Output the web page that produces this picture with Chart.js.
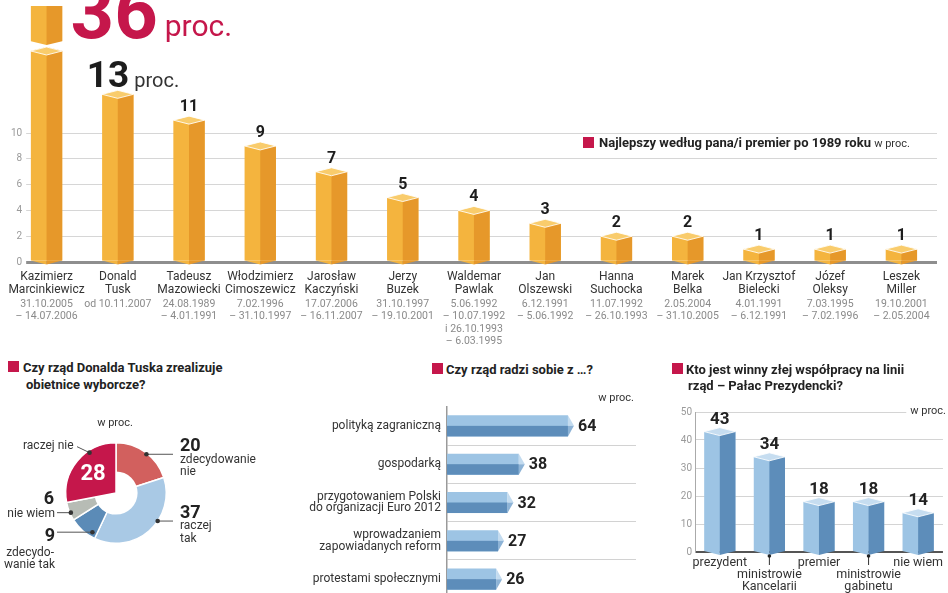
<!DOCTYPE html>
<html lang="pl">
<head>
<meta charset="utf-8">
<script src="https://cdn.jsdelivr.net/npm/chart.js@4"></script>
<style>
  body { margin:0; width:948px; height:593px; overflow:hidden; position:relative; background:#fff; font-family:Roboto, sans-serif; color:#222; }
  canvas { position:absolute; }
  .t { position:absolute; white-space:nowrap; line-height:1; }
  .l { transform:translateY(-50%); }
  .c { transform:translate(-50%,-50%); }
  .r { transform:translate(-100%,-50%); }
  .title { font-weight:700; font-size:13px; color:#222; }
  .sq { position:absolute; width:11px; height:11px; background:#c5174b; }
  .num { font-weight:700; font-size:18px; color:#222; }
  .lbl { font-size:12px; color:#333; }
  .unit { font-size:11px; color:#333; }
</style>
</head>
<body>
<canvas id="main" width="948" height="350" style="left:0;top:0"></canvas>
<canvas id="promise" width="300" height="198" style="left:0;top:395px"></canvas>
<canvas id="handle" width="340" height="215" style="left:300px;top:395px"></canvas>
<canvas id="blame" width="308" height="215" style="left:640px;top:395px"></canvas>

<!-- main chart legend -->
<div class="sq" style="left:583px;top:137px"></div>
<div class="t l title" style="left:599px;top:142px">Najlepszy według pana/i premier po 1989 roku <span style="font-weight:400;font-size:11px;color:#333">w proc.</span></div>

<!-- doughnut panel -->
<div class="sq" style="left:8px;top:361px"></div>
<div class="t l title" style="left:23px;top:367px">Czy rząd Donalda Tuska zrealizuje</div>
<div class="t l title" style="left:26px;top:384px">obietnice wyborcze?</div>
<div class="t c unit" style="left:115px;top:422px">w proc.</div>
<div class="t l lbl" style="left:23px;top:445px">raczej nie</div>
<div class="t c" style="left:93px;top:473px;font-weight:700;font-size:22px;color:#fff">28</div>
<div class="t l num" style="left:180px;top:445px">20</div>
<div class="t l lbl" style="left:180px;top:459px">zdecydowanie</div>
<div class="t l lbl" style="left:180px;top:471px">nie</div>
<div class="t l num" style="left:180px;top:512px">37</div>
<div class="t l lbl" style="left:180px;top:525px">raczej</div>
<div class="t l lbl" style="left:180px;top:538px">tak</div>
<div class="t c num" style="left:49px;top:498px">6</div>
<div class="t r lbl" style="left:55px;top:513px">nie wiem</div>
<div class="t c num" style="left:50px;top:535px">9</div>
<div class="t r lbl" style="left:54px;top:552px">zdecydo-</div>
<div class="t r lbl" style="left:55px;top:564px">wanie tak</div>

<!-- horizontal bars panel -->
<div class="sq" style="left:432px;top:363px"></div>
<div class="t l title" style="left:446px;top:369px">Czy rząd radzi sobie z …?</div>
<div class="t r unit" style="left:634px;top:397px">w proc.</div>

<!-- blame panel -->
<div class="sq" style="left:672px;top:363px"></div>
<div class="t l title" style="left:686px;top:369px">Kto jest winny złej współpracy na linii</div>
<div class="t l title" style="left:688px;top:385px">rząd – Pałac Prezydencki?</div>
<div class="t r unit" style="left:946px;top:410px;background:#fff;padding-left:4px">w proc.</div>

<script>
Chart.defaults.font.family = 'Roboto';

// Najlepszy premier po 1989 roku
const premierNames = [
  ['Kazimierz', 'Marcinkiewicz'], ['Donald', 'Tusk'], ['Tadeusz', 'Mazowiecki'], ['Włodzimierz', 'Cimoszewicz'],
  ['Jarosław', 'Kaczyński'], ['Jerzy', 'Buzek'], ['Waldemar', 'Pawlak'], ['Jan', 'Olszewski'],
  ['Hanna', 'Suchocka'], ['Marek', 'Belka'], ['Jan Krzysztof', 'Bielecki'], ['Józef', 'Oleksy'], ['Leszek', 'Miller']
];
const premierTerms = [
  ['31.10.2005', '– 14.07.2006'], ['od 10.11.2007'], ['24.08.1989', '– 4.01.1991'], ['7.02.1996', '– 31.10.1997'],
  ['17.07.2006', '– 16.11.2007'], ['31.10.1997', '– 19.10.2001'],
  ['5.06.1992', '– 10.07.1992', 'i 26.10.1993', '– 6.03.1995'],
  ['6.12.1991', '– 5.06.1992'], ['11.07.1992', '– 26.10.1993'], ['2.05.2004', '– 31.10.2005'],
  ['4.01.1991', '– 6.12.1991'], ['7.03.1995', '– 7.02.1996'], ['19.10.2001', '– 2.05.2004']
];
const premierValues = [36, 13, 11, 9, 7, 5, 4, 3, 2, 2, 1, 1, 1];
const premierTicks = [0, 2, 4, 6, 8, 10];

// Czy rząd Donalda Tuska zrealizuje obietnice wyborcze?
const promiseLabels = ['zdecydowanie nie', 'raczej tak', 'zdecydowanie tak', 'nie wiem', 'raczej nie'];
const promiseValues = [20, 37, 9, 6, 28];

// Czy rząd radzi sobie z ...?
const handleLabels = ['polityką zagraniczną', 'gospodarką', ['przygotowaniem Polski', 'do organizacji Euro 2012'],
  ['wprowadzaniem', 'zapowiadanych reform'], 'protestami społecznymi'];
const handleValues = [64, 38, 32, 27, 26];

// Kto jest winny złej współpracy?
const blameLabels = ['prezydent', ['', 'ministrowie', 'Kancelarii'], 'premier', ['', 'ministrowie', 'gabinetu'], 'nie wiem'];
const blameValues = [43, 34, 18, 18, 14];
const blameTicks = [0, 10, 20, 30, 40, 50];

const ORANGE = '#f4b43e', ORANGE_DARK = '#e6982a', ORANGE_TOP = '#f9cc6c';
const BLUE = '#9dc4e4', BLUE_DARK = '#5d8dba', BLUE_TOP = '#c6ddf0';
const RED = '#c5174b';
const PROMISE_COLORS = ['#d2605e', '#a9c9e5', '#5b8bb7', '#b7bcb5', RED];
const noLegend = { legend: { display: false }, tooltip: { enabled: false } };

// 3d look: right half darker, rhombus cap, small V at the bottom
function cubes(light, dark, capColor) {
  return {
    id: 'cubes',
    afterDatasetsDraw(chart) {
      const ctx = chart.ctx, area = chart.chartArea;
      ctx.save();
      chart.getDatasetMeta(0).data.forEach(bar => {
        const { x, y, base, width } = bar.getProps(['x', 'y', 'base', 'width'], true);
        const h = width / 2, top = Math.max(y, area.top);
        ctx.fillStyle = dark;
        ctx.fillRect(x, top, h, base - top);
        ctx.beginPath(); ctx.moveTo(x - h, base); ctx.lineTo(x, base + 4); ctx.lineTo(x, base); ctx.closePath();
        ctx.fillStyle = light; ctx.fill();
        ctx.beginPath(); ctx.moveTo(x, base); ctx.lineTo(x, base + 4); ctx.lineTo(x + h, base); ctx.closePath();
        ctx.fillStyle = dark; ctx.fill();
        if (y > area.top) {
          ctx.beginPath();
          ctx.moveTo(x - h, y); ctx.lineTo(x, y - 4); ctx.lineTo(x + h, y); ctx.lineTo(x, y + 4); ctx.closePath();
          ctx.fillStyle = capColor; ctx.fill();
          ctx.strokeStyle = 'rgba(255,255,255,0.85)'; ctx.lineWidth = 1; ctx.stroke();
        }
      });
      ctx.restore();
    }
  };
}

// the 36% bar does not fit, it is broken near the top
const breakY = 46;
const barBreak = {
  id: 'barBreak',
  afterDatasetsDraw(chart) {
    const ctx = chart.ctx;
    const { x, width } = chart.getDatasetMeta(0).data[0].getProps(['x', 'width'], true);
    const h = width / 2;
    ctx.save();
    ctx.beginPath();
    ctx.moveTo(x - h - 1, breakY - 5); ctx.lineTo(x, breakY - 1); ctx.lineTo(x + h + 1, breakY - 5);
    ctx.lineTo(x + h + 1, breakY + 5); ctx.lineTo(x, breakY + 1); ctx.lineTo(x - h - 1, breakY + 5);
    ctx.closePath();
    ctx.fillStyle = '#fff'; ctx.fill();
    ctx.beginPath();
    ctx.moveTo(x - h, breakY + 5); ctx.lineTo(x, breakY + 1); ctx.lineTo(x + h, breakY + 5); ctx.lineTo(x, breakY + 9);
    ctx.closePath();
    ctx.fillStyle = ORANGE_TOP; ctx.fill();
    ctx.strokeStyle = 'rgba(255,255,255,0.85)'; ctx.stroke();
    ctx.restore();
  }
};

const premierLabels = {
  id: 'premierLabels',
  afterDatasetsDraw(chart) {
    const ctx = chart.ctx;
    ctx.save();
    ctx.textBaseline = 'alphabetic';
    chart.getDatasetMeta(0).data.forEach((bar, i) => {
      const v = String(premierValues[i]);
      if (i === 0) {
        ctx.textAlign = 'left'; ctx.fillStyle = RED;
        ctx.font = '700 76px Roboto';
        const x0 = bar.x + 24;
        ctx.fillText(v, x0, 38);
        const w = ctx.measureText(v).width;
        ctx.font = '400 30px Roboto';
        ctx.fillText('proc.', x0 + w + 7, 36);
      } else if (i === 1) {
        ctx.textAlign = 'left'; ctx.fillStyle = '#1d1d1d';
        ctx.font = '700 37px Roboto';
        const x0 = bar.x - 31;
        ctx.fillText(v, x0, bar.y - 7);
        const w = ctx.measureText(v).width;
        ctx.font = '400 20px Roboto'; ctx.fillStyle = '#333';
        ctx.fillText('proc.', x0 + w + 5, bar.y - 7);
      } else {
        ctx.textAlign = 'center'; ctx.fillStyle = '#1d1d1d';
        ctx.font = '700 16px Roboto';
        ctx.fillText(v, bar.x, bar.y - 9);
      }
    });
    ctx.restore();
  }
};

const premierTermsPlugin = {
  id: 'terms',
  afterDraw(chart) {
    const ctx = chart.ctx, sx = chart.scales.x;
    ctx.save();
    ctx.font = '400 10.5px Roboto'; ctx.fillStyle = '#8a8a8a';
    ctx.textAlign = 'center'; ctx.textBaseline = 'middle';
    premierTerms.forEach((lines, i) => {
      const x = sx.getPixelForTick(i);
      lines.forEach((s, j) => ctx.fillText(s, x, chart.chartArea.bottom + 42 + j * 12.5));
    });
    ctx.restore();
  }
};

new Chart(document.getElementById('main'), {
  type: 'bar',
  data: {
    labels: premierNames,
    datasets: [{ data: premierValues, backgroundColor: ORANGE, borderWidth: 0, categoryPercentage: 1, barPercentage: 0.44 }]
  },
  options: {
    responsive: false,
    animation: false,
    layout: { padding: { left: 10, right: 11, top: 0, bottom: 0 } },
    plugins: noLegend,
    scales: {
      x: {
        grid: { display: false, drawTicks: false },
        border: { display: false },
        ticks: { padding: 8, color: '#333', font: { size: 12, lineHeight: 1.1 }, maxRotation: 0, autoSkip: false },
        afterFit: s => { s.height = 88; }
      },
      y: {
        min: 0,
        max: 19.85,
        afterFit: s => { s.width = 0; },
        afterBuildTicks: s => { s.ticks = premierTicks.map(v => ({ value: v })); },
        border: { display: false },
        grid: {
          drawTicks: false,
          color: c => (c.tick && c.tick.value === 0 ? '#8e8e8e' : '#d6d6d6'),
          lineWidth: c => (c.tick && c.tick.value === 0 ? 3 : 1)
        },
        ticks: {
          mirror: true, crossAlign: 'far', padding: 0, color: '#9a9a9a', font: { size: 10 },
          showLabelBackdrop: true, backdropColor: '#fff', backdropPadding: { top: 0, bottom: 0, left: 12, right: 4 }
        }
      }
    }
  },
  plugins: [cubes(ORANGE, ORANGE_DARK, ORANGE_TOP), barBreak, premierLabels, premierTermsPlugin]
});

// doughnut: every slice has a hole except "raczej nie"
const promiseHole = {
  id: 'hole',
  afterDatasetsDraw(chart) {
    const arcs = chart.getDatasetMeta(0).data;
    const { x, y, outerRadius } = arcs[0].getProps(['x', 'y', 'outerRadius'], true);
    const ctx = chart.ctx;
    ctx.save();
    ctx.beginPath();
    ctx.moveTo(x, y);
    ctx.arc(x, y, outerRadius * 0.43, arcs[0].startAngle, arcs[3].endAngle);
    ctx.closePath();
    ctx.fillStyle = '#fff'; ctx.fill();
    ctx.restore();
  }
};

const promiseLeaders = [
  { t: 0.53, r: 0.98, x: 173, dy: 0 },
  { t: 0.39, r: 1.0, x: 173, dy: 0 },
  { t: 0.18, r: 0.91, x: 57, dy: 0 },
  { t: 0.41, r: 0.98, x: 57, dy: 0 },
  { t: 0.67, r: 0.96, x: 77, dy: -6 }
];
const promiseLeadersPlugin = {
  id: 'leaders',
  afterDraw(chart) {
    const ctx = chart.ctx;
    ctx.save();
    chart.getDatasetMeta(0).data.forEach((a, i) => {
      const p = promiseLeaders[i];
      const ang = a.startAngle + p.t * (a.endAngle - a.startAngle);
      const px = a.x + p.r * a.outerRadius * Math.cos(ang);
      const py = a.y + p.r * a.outerRadius * Math.sin(ang);
      ctx.strokeStyle = '#555'; ctx.lineWidth = 1;
      ctx.beginPath(); ctx.moveTo(px, py); ctx.lineTo(p.x, py + p.dy); ctx.stroke();
      ctx.fillStyle = '#333';
      ctx.beginPath(); ctx.arc(px, py, 2.3, 0, Math.PI * 2); ctx.fill();
    });
    ctx.restore();
  }
};

new Chart(document.getElementById('promise'), {
  type: 'pie',
  data: {
    labels: promiseLabels,
    datasets: [{ data: promiseValues, backgroundColor: PROMISE_COLORS, borderColor: '#fff', borderWidth: 1.5 }]
  },
  options: {
    responsive: false,
    animation: false,
    layout: { padding: { left: 65, right: 133, top: 47, bottom: 49 } },
    plugins: noLegend
  },
  plugins: [promiseHole, promiseLeadersPlugin]
});

// horizontal prisms
const prisms = {
  id: 'prisms',
  afterDatasetsDraw(chart) {
    const ctx = chart.ctx;
    ctx.save();
    chart.getDatasetMeta(0).data.forEach((bar, i) => {
      const { x, y, base, height } = bar.getProps(['x', 'y', 'base', 'height'], true);
      const h = height / 2;
      ctx.fillStyle = BLUE_DARK;
      ctx.fillRect(base, y, x - base, h);
      ctx.beginPath(); ctx.moveTo(x, y - h); ctx.lineTo(x + 6, y); ctx.lineTo(x, y); ctx.closePath();
      ctx.fillStyle = '#c3dbef'; ctx.fill();
      ctx.beginPath(); ctx.moveTo(x, y); ctx.lineTo(x + 6, y); ctx.lineTo(x, y + h); ctx.closePath();
      ctx.fillStyle = '#8db3d6'; ctx.fill();
      ctx.font = '700 16px Roboto'; ctx.fillStyle = '#222';
      ctx.textAlign = 'left'; ctx.textBaseline = 'middle';
      ctx.fillText(handleValues[i], x + 10, y + 1);
    });
    ctx.restore();
  }
};

new Chart(document.getElementById('handle'), {
  type: 'bar',
  data: {
    labels: handleLabels,
    datasets: [{ data: handleValues, backgroundColor: BLUE, borderWidth: 0, categoryPercentage: 1, barPercentage: 0.55 }]
  },
  options: {
    indexAxis: 'y',
    responsive: false,
    animation: false,
    layout: { padding: { left: 0, right: 4, top: 7, bottom: 7 } },
    plugins: noLegend,
    scales: {
      x: { display: false, min: 0, max: 100 },
      y: {
        afterFit: s => { s.width = 147; },
        border: { color: '#9a9a9a', width: 1.5 },
        grid: { drawTicks: false, color: c => (c.index === 0 ? 'rgba(0,0,0,0)' : '#d2d2d2') },
        ticks: { padding: 6, color: '#333', font: { size: 12, lineHeight: 0.95 } }
      }
    }
  },
  plugins: [prisms]
});

const blameExtras = {
  id: 'blameExtras',
  afterDatasetsDraw(chart) {
    const ctx = chart.ctx, area = chart.chartArea, sx = chart.scales.x;
    ctx.save();
    chart.getDatasetMeta(0).data.forEach((bar, i) => {
      ctx.font = '700 17px Roboto'; ctx.fillStyle = '#222';
      ctx.textAlign = 'center'; ctx.textBaseline = 'alphabetic';
      ctx.fillText(blameValues[i], bar.x, bar.y - 8);
      if (Array.isArray(blameLabels[i])) {
        const x = sx.getPixelForTick(i);
        ctx.strokeStyle = '#333'; ctx.lineWidth = 1;
        ctx.beginPath(); ctx.moveTo(x, area.bottom + 3); ctx.lineTo(x, area.bottom + 13); ctx.stroke();
        ctx.fillStyle = '#222';
        ctx.beginPath(); ctx.arc(x, area.bottom + 4, 1.8, 0, Math.PI * 2); ctx.fill();
      }
    });
    ctx.restore();
  }
};

new Chart(document.getElementById('blame'), {
  type: 'bar',
  data: {
    labels: blameLabels,
    datasets: [{ data: blameValues, backgroundColor: BLUE, borderWidth: 0, categoryPercentage: 1, barPercentage: 0.63 }]
  },
  options: {
    responsive: false,
    animation: false,
    layout: { padding: { left: 0, right: 0, top: 17, bottom: 0 } },
    plugins: noLegend,
    scales: {
      x: {
        afterFit: s => { s.height = 58; },
        grid: { display: false, drawTicks: false },
        border: { display: false },
        ticks: { padding: 5, color: '#333', font: { size: 12.5, lineHeight: 0.95 }, maxRotation: 0, autoSkip: false }
      },
      y: {
        min: 0,
        max: 50,
        afterFit: s => { s.width = 55; },
        afterBuildTicks: s => { s.ticks = blameTicks.map(v => ({ value: v })); },
        border: { color: '#aaa', width: 1 },
        grid: {
          drawTicks: false,
          color: c => (c.tick && c.tick.value === 0 ? '#555' : '#d4d4d4'),
          lineWidth: c => (c.tick && c.tick.value === 0 ? 2 : 1)
        },
        ticks: { padding: 3, color: '#9a9a9a', font: { size: 10 } }
      }
    }
  },
  plugins: [cubes(BLUE, BLUE_DARK, BLUE_TOP), blameExtras]
});
</script>
</body>
</html>
